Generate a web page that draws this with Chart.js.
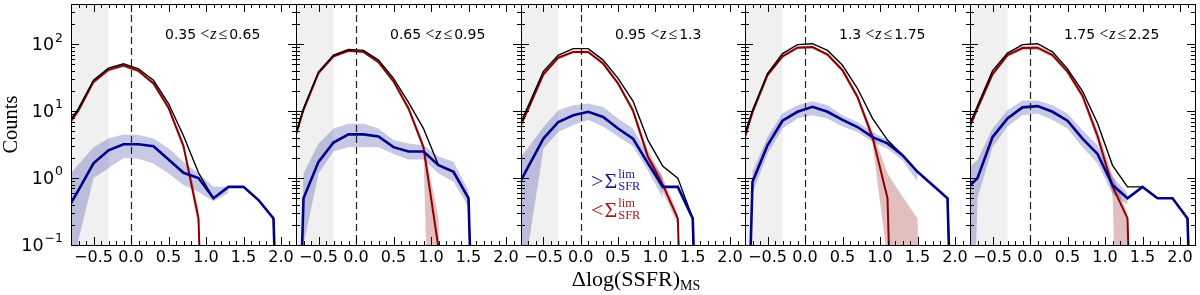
<!DOCTYPE html>
<html>
<head>
<meta charset="utf-8">
<script src="https://cdn.jsdelivr.net/npm/chart.js@4.4.1/dist/chart.umd.min.js"></script>
<style>
  body { margin: 0; background: #fff; }
  #wrap { position: relative; width: 1200px; height: 295px; }
  #wrap canvas { position: absolute; left: 0; top: 0; }
</style>
</head>
<body>
<div id="wrap">
  <canvas id="p0" width="1200" height="295"></canvas>
  <canvas id="p1" width="1200" height="295"></canvas>
  <canvas id="p2" width="1200" height="295"></canvas>
  <canvas id="p3" width="1200" height="295"></canvas>
  <canvas id="p4" width="1200" height="295"></canvas>
</div>
<script>
// empty bin (zero counts), drawn far below the log axis
var Z = 1e-8;

// bin centres of Delta log(SSFR)_MS
var BINS = [-0.9, -0.7, -0.5, -0.3, -0.1, 0.1, 0.3, 0.5, 0.7, 0.9, 1.1, 1.3, 1.5, 1.7, 1.9, 2.1, 2.3];

var ZRANGES = [['0.35', '0.65'], ['0.65', '0.95'], ['0.95', '1.3'], ['1.3', '1.75'], ['1.75', '2.25']];
var XTICKS = [-0.5, 0.0, 0.5, 1.0, 1.5, 2.0];
var YTICKS = [0.1, 1, 10, 100];
var GREY_EDGE = -0.3;

// all galaxies (black)
var allCounts = [
  [5.2, 11, 29, 44, 51, 43, 29, 13, 4.3, 1.2, 0.5, 0.74, 0.74, 0.47, 0.25, Z, Z],
  [2.0, 11, 38.7, 69, 84, 81, 58, 31, 13.5, 5.5, 1.56, 1.24, 0.5, Z, Z, Z, Z],
  [3.9, 12.3, 39.5, 69, 86, 86, 58, 31, 14.2, 3.7, 1.5, 1.0, 0.25, Z, Z, Z, Z],
  [2.1, 10.3, 36.6, 72.6, 99, 102, 81, 48.6, 21.8, 7.8, 3.7, 2.2, 1.24, 0.79, 0.5, Z, Z],
  [3.6, 12, 40, 74, 99, 102, 77, 43, 20, 6.6, 1.55, 0.74, 0.74, 0.5, 0.5, 0.25, Z]
];

// < Sigma_SFR^lim (red)
var lowCounts = [
  [4.9, 10.3, 27.4, 41.5, 48, 40, 26, 11.3, 3.0, 0.25, Z, Z],
  [1.9, 10.5, 37, 66, 80, 77, 54, 28, 11, 2.9, 0.09, Z],
  [3.6, 11, 35.5, 63, 77, 77, 51.5, 26, 10.2, 2.1, 0.79, 0.25, Z],
  [1.8, 9.6, 34.5, 66, 89, 91, 70, 41, 16.3, 4.1, 0.5, Z],
  [3.3, 11, 35.5, 69, 88, 89, 69, 39, 17, 4.3, 0.75, 0.25, Z]
];
var lowUpper = [
  [5.4, 11.3, 29, 44, 51, 43, 28.5, 12.5, 3.5, 0.35, Z],
  [2.1, 11.5, 39, 69, 84, 81, 57, 30, 12.3, 3.4, 0.25, Z],
  [4.0, 12, 38, 67, 81, 81, 55, 28.5, 11.5, 2.6, 1.0, 0.3, Z],
  [1.9, 10.3, 36.6, 70, 94, 96, 74, 44, 18, 5.0, 1.17, 0.53, 0.25, Z],
  [3.6, 12, 38, 74, 95, 96, 74, 42, 19, 5.2, 1.1, 0.3, Z]
];
var lowLower = [
  [4.4, 9.3, 25.5, 39, 45.5, 38, 24.5, 10.2, 2.6, 0.18, Z],
  [1.7, 9.6, 35, 63, 76, 73, 51, 26, 9.8, 2.5, Z, Z],
  [3.2, 10, 33, 59, 73, 73, 48, 24, 9.2, 1.7, 0.62, 0.2, Z],
  [1.6, 8.9, 32.5, 62, 84, 86, 66, 38, 14.5, 3.3, 0.06, Z, Z, Z],
  [3.0, 10, 33, 64, 81, 82, 64, 35.5, 15, 3.4, 0.6, Z, Z]
];

// > Sigma_SFR^lim (blue)
var highCounts = [
  [0.27, 0.66, 1.66, 2.6, 3.2, 3.2, 3.0, 1.9, 1.2, 1.0, 0.5, 0.74, 0.74, 0.47, 0.25, Z, Z],
  [Z, 0.5, 1.75, 3.4, 4.5, 4.5, 4.2, 2.9, 2.5, 2.5, 1.56, 1.24, 0.5, Z, Z, Z, Z],
  [0.58, 1.5, 3.9, 6.9, 8.7, 9.8, 8.2, 5.5, 3.9, 1.66, 0.74, 0.74, 0.25, Z, Z, Z, Z],
  [Z, 0.88, 3.1, 7.2, 9.8, 11.6, 9.8, 7.4, 5.8, 4.1, 3.3, 2.2, 1.24, 0.79, 0.5, Z, Z],
  [0.6, 1.0, 4.1, 7.8, 11.4, 11.9, 9.8, 7.2, 3.9, 2.3, 0.79, 0.5, 0.74, 0.5, 0.5, 0.25, Z]
];
var highUpper = [
  [0.87, 1.6, 2.9, 3.9, 4.5, 4.4, 3.9, 2.8, 1.75, 1.17, 0.74, 0.74],
  [Z, 1.17, 3.3, 5.5, 6.5, 6.5, 5.5, 3.7, 3.3, 3.1, 2.1, 1.75, 0.66],
  [1.5, 2.9, 5.8, 10.3, 12.3, 13, 11.6, 7.8, 5.5, 2.2, 1.05],
  [Z, 1.24, 4.1, 9.3, 12.3, 14.1, 12.3, 8.7, 6.9, 4.9, 3.7, 2.4, 1.3],
  [1.17, 1.86, 5.5, 10.3, 14.5, 14.5, 12.3, 9.2, 5.2, 3.1, 1.05, 0.6]
];
var highLower = [
  [Z, 0.12, 1.0, 1.4, 2.0, 1.95, 1.65, 1.17, 0.79, 0.62, 0.45, 0.6],
  [Z, 0.1, 1.17, 2.5, 2.9, 2.9, 2.9, 2.3, 1.9, 1.9, 1.17, 0.88, 0.37],
  [Z, 0.1, 2.75, 4.9, 6.2, 7.4, 5.9, 4.2, 3.0, 1.3, 0.5],
  [Z, 0.6, 2.3, 5.5, 7.8, 8.7, 7.8, 5.9, 4.9, 3.5, 2.75, 1.85, 0.88],
  [Z, 0.5, 2.9, 5.9, 8.7, 9.2, 7.4, 5.5, 2.9, 1.65, 0.58, 0.4]
];

var EDGES = [71, 296, 521, 745, 970, 1195];
var SANS = 'DejaVu Sans';
var SERIF = 'Liberation Serif';

function pts(arr) {
  return arr.map(function(v, i) { return {x: BINS[i], y: v}; });
}

function fmtX(v) {
  return (v < 0 ? '\u2212' : '') + Math.abs(v).toFixed(1);
}

// draw a run of text pieces left to right
function drawRuns(ctx, x, y, runs) {
  runs.forEach(function(r) {
    ctx.font = r.f;
    if (r.c) ctx.fillStyle = r.c;
    x += r.pre || 0;
    ctx.fillText(r.t, x, y + (r.dy || 0));
    x += ctx.measureText(r.t).width;
  });
  return x;
}

// > or < Sigma with lim superscript and SFR subscript
function drawSigma(ctx, x, y, rel, color) {
  ctx.fillStyle = color;
  x = drawRuns(ctx, x, y, [{t: rel, f: '22px ' + SERIF}, {t: '\u03a3', f: '22px ' + SERIF, pre: 1}]);
  ctx.font = '12.5px ' + SERIF;
  ctx.fillText('lim', x + 1, y - 10);
  ctx.fillText('SFR', x + 1, y + 1.5);
}

var panelPlugin = {
  id: 'panel',
  beforeDatasetsDraw: function(chart) {
    var a = chart.chartArea, ctx = chart.ctx;
    var gx = chart.scales.x.getPixelForValue(GREY_EDGE);
    ctx.save();
    ctx.fillStyle = '#f0f0f0';
    ctx.fillRect(a.left, a.top, gx - a.left, a.bottom - a.top);
    ctx.restore();
  },
  afterDatasetsDraw: function(chart, args, opts) {
    var a = chart.chartArea, ctx = chart.ctx;
    var xs = chart.scales.x, ys = chart.scales.y;
    var i = opts.index;
    ctx.save();

    // dashed line at zero offset from the main sequence
    var x0 = Math.round(xs.getPixelForValue(0)) + 0.5;
    ctx.strokeStyle = '#222';
    ctx.lineWidth = 1.2;
    ctx.setLineDash([7, 4]);
    ctx.beginPath();
    ctx.moveTo(x0, a.top);
    ctx.lineTo(x0, a.bottom);
    ctx.stroke();
    ctx.setLineDash([]);

    // frame
    ctx.strokeStyle = '#000';
    ctx.lineWidth = 1;
    ctx.strokeRect(a.left + 0.5, a.top + 0.5, a.right - a.left, a.bottom - a.top);

    // inward ticks
    ctx.beginPath();
    for (var k = -8; k <= 22; k++) {
      var v = k / 10;
      var len = (k % 5 === 0) ? 8 : 4;
      var px = Math.round(xs.getPixelForValue(v)) + 0.5;
      ctx.moveTo(px, a.bottom);
      ctx.lineTo(px, a.bottom - len);
      ctx.moveTo(px, a.top);
      ctx.lineTo(px, a.top + len);
    }
    for (var d = 0.1; d < 1000; d *= 10) {
      for (var m = 1; m <= 9; m++) {
        var yv = d * m;
        if (yv < 0.1 || yv > 400) continue;
        var py = Math.round(ys.getPixelForValue(yv)) + 0.5;
        var ln = m === 1 ? 8 : 4;
        ctx.moveTo(a.left, py);
        ctx.lineTo(a.left + ln, py);
        ctx.moveTo(a.right, py);
        ctx.lineTo(a.right - ln, py);
      }
    }
    ctx.stroke();

    // redshift range label
    ctx.fillStyle = '#000';
    ctx.textAlign = 'left';
    ctx.textBaseline = 'alphabetic';
    drawRuns(ctx, a.left + 94, 39, [
      {t: ZRANGES[i][0], f: '14px ' + SANS},
      {t: '<', f: '16px ' + SERIF, pre: 4},
      {t: 'z', f: 'italic 16px ' + SERIF, pre: 1},
      {t: '\u2264', f: '16px ' + SERIF, pre: 2},
      {t: ZRANGES[i][1], f: '14px ' + SANS, pre: 2}
    ]);

    if (i === 0) {
      // y tick labels 10^n
      YTICKS.forEach(function(t) {
        var py = ys.getPixelForValue(t);
        var ex = String(Math.round(Math.log10(t))).replace('-', '\u2212');
        ctx.font = '17.5px ' + SANS;
        var wb = ctx.measureText('10').width;
        ctx.font = '12.5px ' + SANS;
        var we = ctx.measureText(ex).width;
        var x = 63 - wb - we - 1;
        ctx.textBaseline = 'middle';
        ctx.font = '17.5px ' + SANS;
        ctx.fillText('10', x, py + 1.5);
        ctx.font = '12.5px ' + SANS;
        ctx.fillText(ex, x + wb + 1, py - 6);
      });
      // y title
      ctx.save();
      ctx.translate(12, (a.top + a.bottom) / 2);
      ctx.rotate(-Math.PI / 2);
      ctx.textAlign = 'center';
      ctx.textBaseline = 'middle';
      ctx.font = '20.5px ' + SERIF;
      ctx.fillText('Counts', 0, 0);
      ctx.restore();
    }

    if (i === 2) {
      ctx.textBaseline = 'alphabetic';
      drawSigma(ctx, 591, 188, '>', '#1a1aa0');
      drawSigma(ctx, 591, 217, '<', '#a01a1a');
      // x title
      ctx.fillStyle = '#000';
      ctx.font = '22px ' + SERIF;
      var main = '\u0394log(SSFR)';
      var wm = ctx.measureText(main).width;
      ctx.font = '14px ' + SERIF;
      var ws = ctx.measureText('MS').width;
      var sx = 636 - (wm + ws) / 2;
      ctx.font = '22px ' + SERIF;
      ctx.fillText(main, sx, 286);
      ctx.font = '14px ' + SERIF;
      ctx.fillText('MS', sx + wm, 290);
    }
    ctx.restore();
  }
};

function makePanel(i) {
  var left = EDGES[i], right = EDGES[i + 1];
  var band = {borderColor: 'transparent', borderWidth: 0};
  return new Chart(document.getElementById('p' + i), {
    type: 'line',
    data: {
      datasets: [
        {data: pts(highCounts[i]), borderColor: '#00008b', borderWidth: 2.6, order: 0},
        {data: pts(allCounts[i]), borderColor: '#000000', borderWidth: 1.4, order: 1},
        {data: pts(lowCounts[i]), borderColor: '#8b0000', borderWidth: 2, order: 2},
        Object.assign({data: pts(highUpper[i]), backgroundColor: 'rgba(0,0,139,0.22)', fill: '+1', order: 3}, band),
        Object.assign({data: pts(highLower[i]), fill: false, order: 4}, band),
        Object.assign({data: pts(lowUpper[i]), backgroundColor: 'rgba(139,0,0,0.25)', fill: '+1', order: 5}, band),
        Object.assign({data: pts(lowLower[i]), fill: false, order: 6}, band)
      ]
    },
    options: {
      responsive: false,
      animation: false,
      devicePixelRatio: 1,
      layout: {padding: {left: left, right: 1200 - right, top: 4, bottom: 0}},
      elements: {point: {radius: 0}, line: {tension: 0, fill: false}},
      plugins: {legend: {display: false}, tooltip: {enabled: false}, panel: {index: i}},
      scales: {
        x: {
          type: 'linear', min: -0.8, max: 2.2,
          grid: {display: false}, border: {display: false},
          afterBuildTicks: function(s) { s.ticks = XTICKS.map(function(v) { return {value: v}; }); },
          afterFit: function(s) { s.height = 50; s.paddingLeft = 0; s.paddingRight = 0; },
          ticks: {
            font: {family: SANS, size: 16}, color: '#000', padding: -5,
            maxRotation: 0, autoSkip: false,
            callback: function(v) { return fmtX(v); }
          }
        },
        y: {type: 'logarithmic', min: 0.1, max: 400, display: false}
      }
    },
    plugins: [panelPlugin]
  });
}

for (var p = 0; p < 5; p++) makePanel(p);
</script>
</body>
</html>
